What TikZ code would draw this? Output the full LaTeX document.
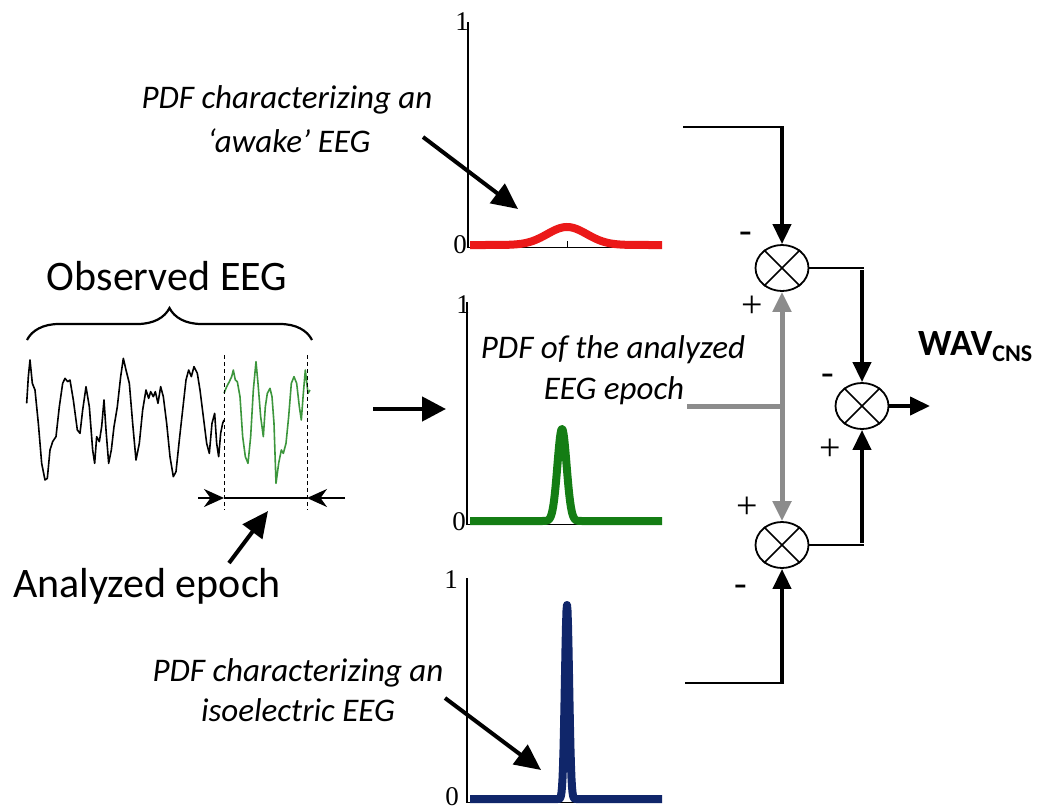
\documentclass[tikz,border=0pt]{standalone}
\usepackage{fontspec}
\setmainfont{Carlito}
\newfontfamily\axfont{Liberation Serif}
\usetikzlibrary{arrows.meta,shapes.geometric,decorations.pathreplacing}
\definecolor{pdfred}{RGB}{235,25,25}
\definecolor{pdfgreen}{RGB}{20,125,20}
\definecolor{pdfnavy}{RGB}{16,38,106}
\definecolor{eeggreen}{RGB}{60,150,60}
\definecolor{linkgray}{RGB}{140,140,140}
\tikzset{
  thickarrow/.style={line width=4pt,-{Triangle[length=20pt,width=18pt]}},
  thinlink/.style={line width=1.6pt},
  graylink/.style={linkgray,line width=5pt},
  grayarrow/.style={linkgray,line width=5pt,{Triangle[length=20pt,width=18pt]}-{Triangle[length=20pt,width=18pt]}},
  notearrow/.style={line width=4pt,-{Triangle[length=26pt,width=24pt]}},
  sumnode/.style={ellipse,draw,line width=1.8pt,minimum width=53pt,minimum height=46pt,inner sep=0pt},
  bigtxt/.style={font=\fontsize{42}{50}\selectfont,inner sep=0pt},
  note/.style={font=\fontsize{33}{40}\selectfont\itshape,inner sep=0pt},
  axlbl/.style={font=\axfont\fontsize{27}{30}\selectfont,inner sep=0pt},
  sgn/.style={font=\axfont\fontsize{38}{38}\selectfont,inner sep=0pt},
  axisline/.style={line width=2pt},
  baseaxis/.style={line width=1pt},
  pdfcurve/.style={line width=8pt},
}
\begin{document}
\begin{tikzpicture}[x=1pt,y=-1pt]
\useasboundingbox[fill=white] (0,0) rectangle (1054,811);

% ---------- Observed EEG ----------
\node[bigtxt,anchor=base] (obs) at (167,290) {Observed EEG};
\draw[line width=2.2pt,decorate,decoration={brace,amplitude=32pt}] (27,340) -- (312,340);
\begin{scope}[shift={(0,250)},x=0.33333pt,y=-0.33333pt]
\draw[line width=1.6pt,line join=round] plot coordinates {(80,460) (85,380) (90,330) (97,400) (105,420) (115,520) (125,640) (135,690) (142,685) (150,600) (158,575) (168,560) (178,470) (188,400) (195,385) (203,395) (210,390) (220,450) (232,540) (240,550) (248,480) (258,410) (268,470) (278,600) (284,640) (290,560) (298,575) (305,530) (312,450) (318,540) (326,640) (334,600) (342,530) (352,470) (362,380) (370,325) (378,360) (388,400) (398,520) (408,630) (418,580) (428,480) (438,420) (446,445) (452,425) (460,440) (466,425) (474,460) (482,410) (490,440) (500,520) (510,620) (520,680) (528,665) (538,570) (548,480) (558,390) (566,360) (574,380) (582,350) (592,370) (600,420) (610,500) (620,580) (628,610) (636,520) (644,490) (650,580) (656,620) (662,550) (668,520) (672,510)};
\draw[eeggreen,line width=1.6pt,line join=round] plot coordinates {(672,430) (680,410) (688,395) (695,380) (700,360) (706,390) (712,395) (720,440) (728,560) (736,620) (744,640) (752,560) (760,420) (768,335) (774,400) (782,500) (790,560) (796,470) (802,430) (810,415) (816,440) (822,520) (828,700) (836,640) (844,600) (850,610) (858,580) (866,500) (874,400) (882,380) (890,400) (898,470) (904,510) (910,430) (916,360) (924,430) (930,420)};
\end{scope}
\draw[line width=1pt,dash pattern=on 4pt off 3pt] (224,355) -- (224,510);
\draw[line width=1pt,dash pattern=on 4pt off 3pt] (307,355) -- (307,510);
\coordinate (epL) at (224,498);
\coordinate (epR) at (307,498);
\coordinate (epLo) at (198,498);
\coordinate (epRo) at (345,498);
\draw[line width=1.6pt] (epL) -- (epR);
\draw[line width=2pt,-{Stealth[length=20pt,width=18pt]}] (epLo) -- (epL);
\draw[line width=2pt,-{Stealth[length=20pt,width=18pt]}] (epRo) -- (epR);
\node[bigtxt,anchor=base] (ana) at (147,597) {Analyzed epoch};
\coordinate (anaTip) at (268,511);
\coordinate (anaTail) at (229,563);
\draw[notearrow] (anaTail) -- (anaTip);

% ---------- arrow into PDFs ----------
\coordinate (la1) at (373,409);
\coordinate (la2) at (446,409);
\draw[line width=4.5pt,-{Triangle[length=24pt,width=24pt]}] (la1) -- (la2);

% ---------- top PDF (awake) ----------
\draw[baseaxis] (468,247) -- (662,247);
\draw[baseaxis] (567,247) -- (567,241);
\draw[pdfred,pdfcurve] plot[domain=470:662,samples=120] (\x,{245-18*exp(-(((\x-567)/28)^2))});
\draw[axisline] (468,22) -- (468,248);
\node[axlbl,anchor=east] (t1) at (469,22) {1};
\node[axlbl,anchor=east] (t0) at (467,245) {0};
\node[note,anchor=base] (awA) at (287,108) {PDF characterizing an};
\node[note,anchor=base] (awB) at (289,152) {‘awake’ EEG};
\coordinate (awTail) at (423,137);
\coordinate (awTip) at (518,209);
\draw[notearrow] (awTail) -- (awTip);

% ---------- middle PDF (analyzed) ----------
\draw[baseaxis] (468,524) -- (662,524);
\draw[pdfgreen,pdfcurve,line join=round] plot[domain=470:662,samples=389] (\x,{521-92*exp(-(((\x-562)/6.5)^2))});
\draw[axisline] (467,302) -- (467,525);
\node[axlbl,anchor=east] (m1) at (470,305) {1};
\node[axlbl,anchor=east] (m0) at (466,522) {0};
\node[note,anchor=base] (anA) at (613,358) {PDF of the analyzed};
\node[note,anchor=base] (anB) at (614,399) {EEG epoch};

% ---------- bottom PDF (isoelectric) ----------
\draw[baseaxis] (467,802) -- (662,802);
\draw[pdfnavy,pdfcurve,line join=round] plot[domain=470:662,samples=385] (\x,{799-194*exp(-(((\x-567)/3)^2))});
\draw[axisline] (467,578) -- (467,803);
\node[axlbl,anchor=east] (b1) at (458,580) {1};
\node[axlbl,anchor=east] (b0) at (459,797) {0};
\node[note,anchor=base] (isA) at (298,681) {PDF characterizing an};
\node[note,anchor=base] (isB) at (298,721) {isoelectric EEG};
\coordinate (isTail) at (445,698);
\coordinate (isTip) at (541,770);
\draw[notearrow] (isTail) -- (isTip);

% ---------- comparators ----------
\node[sumnode] (s1) at (782,268) {};
\node[sumnode] (s2) at (862,406) {};
\node[sumnode] (s3) at (782,545) {};
\foreach \s in {s1,s2,s3}{
  \draw[line width=1.5pt] (\s.45) -- (\s.225);
  \draw[line width=1.5pt] (\s.135) -- (\s.315);
}

\coordinate (inTop) at (683,127);
\coordinate (inMid) at (687,406);
\coordinate (inBot) at (685,683);
\coordinate (out) at (930,406);

\draw[thinlink] (inTop) -- ([xshift=2pt]inTop -| s1.north);
\draw[thickarrow] (inTop -| s1.north) -- (s1.north);
\draw[thinlink] (inBot) -- ([xshift=2pt]inBot -| s3.south);
\draw[thickarrow] (inBot -| s3.south) -- (s3.south);
\draw[graylink] (inMid) -- (inMid -| s1.south);
\draw[grayarrow] (s1.south) -- (s3.north);
\draw[thinlink] (s1.east) -- ([xshift=2pt]s1.east -| s2.north);
\draw[thickarrow] ([yshift=-2pt]s1.east -| s2.north) -- (s2.north);
\draw[thinlink] (s3.east) -- ([xshift=2pt]s3.east -| s2.south);
\draw[thickarrow] ([yshift=2pt]s3.east -| s2.south) -- (s2.south);
\draw[thickarrow] (s2.east) -- (out);

\node[sgn] (s1m) at (746,237) {-};
\node[sgn] (s1p) at (752,307) {+};
\node[sgn] (s2m) at (828,379) {-};
\node[sgn] (s2p) at (830,450) {+};
\node[sgn] (s3p) at (747,508) {+};
\node[sgn] (s3m) at (741,590) {-};

\node[anchor=base west,inner sep=0pt,font=\bfseries\fontsize{37}{40}\selectfont] (wav) at (918,355) {WAV{\fontsize{24}{24}\selectfont\raisebox{-6pt}{CNS}}};
\end{tikzpicture}
\end{document}
